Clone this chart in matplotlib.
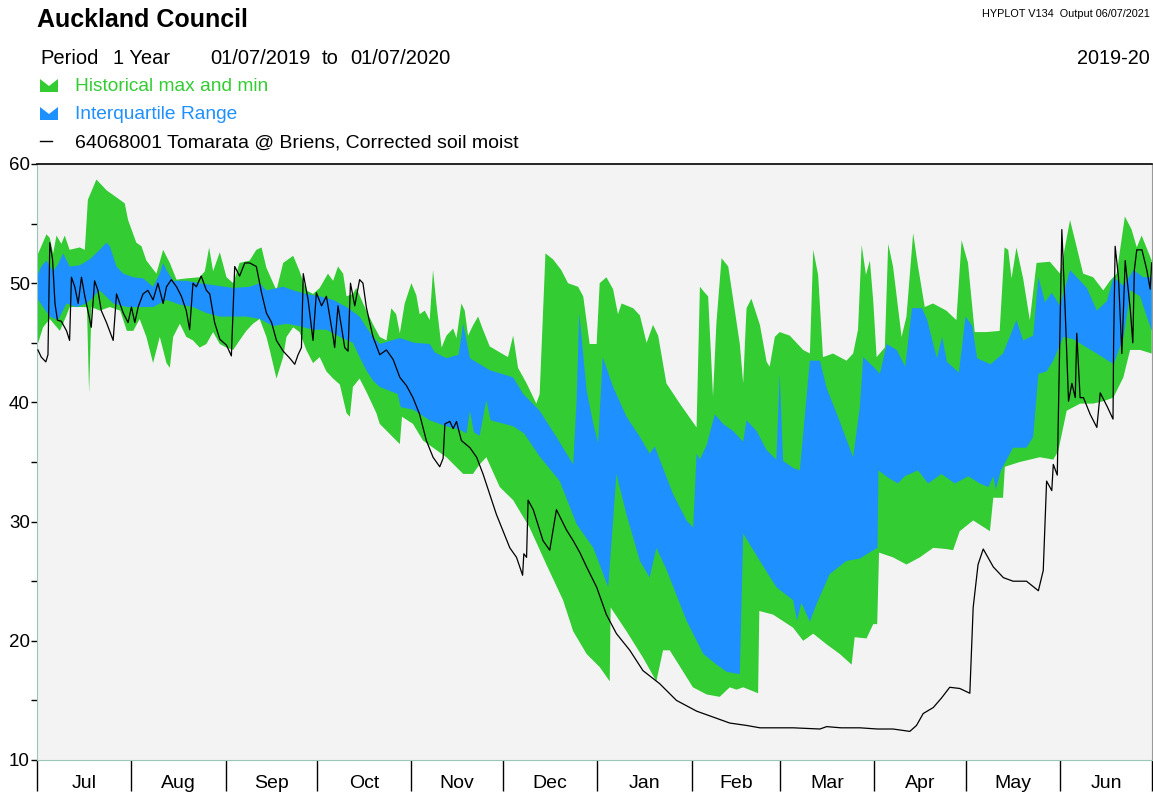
import numpy as np
import pandas as pd
import matplotlib
matplotlib.use('Agg')
import matplotlib.pyplot as plt
from matplotlib.patches import Polygon
from matplotlib.lines import Line2D

plt.rcParams['font.family'] = ['Liberation Sans', 'DejaVu Sans']

# x values are days since 01/07/2019, y values are soil moisture
hist_max_day = [0, 3.2, 4.3, 5.4, 6.5, 8.1, 9.2, 10.8, 14.1, 15.8, 16.8, 19.6, 22.9, 26.2, 28.9, 30, 32.7, 34.4, 36,
                39.3, 41.5, 43.7, 45.9, 49.1, 53.5, 55.2, 56.6, 57.9, 60.1, 62.3, 64.5, 66.6, 69.9, 72.1, 73.8, 75.4,
                78.7, 80.9, 84.2, 86.3, 88.5, 90.7, 92.9, 95.6, 97.3, 98.9, 100.6, 101.7, 103.8, 104.9, 108.2, 110.5,
                112.6, 114.8, 116.4, 118, 119.2, 120.8, 123, 124.6, 125.7, 127.4, 129, 130.1, 131.2, 132.9, 134.5,
                136.7, 137.8, 139.4, 140.5, 141.6, 143.3, 144.9, 146.5, 148.7, 152, 154.7, 156.4, 158, 160.8, 164,
                165.1, 167, 169.5, 172.2, 174.4, 177.7, 179.4, 181.5, 183.8, 184.8, 187, 189.2, 190.8, 192, 195.8,
                198, 200.2, 202.3, 204, 206.7, 211.1, 216.6, 217.7, 219.3, 220.4, 222, 223.1, 224.8, 227, 230.8,
                231.9, 233, 234.6, 237.4, 239.6, 240.6, 242.3, 243.9, 247.2, 251.6, 253.8, 254.9, 256.5, 258.1,
                261.4, 265.8, 268, 269.6, 270.8, 272.2, 273.5, 274.6, 275.7, 278.4, 279.5, 281.1, 283.9, 285.5,
                287.7, 289.3, 291.5, 294.2, 298.6, 301.9, 303.6, 305.7, 307.9, 311.8, 316.1, 317.7, 318.9, 320,
                321.6, 323.8, 326, 328.2, 332.6, 335.9, 339.2, 341.4, 343.5, 346.8, 350.1, 352.3, 354.5, 357.2,
                359.4, 361.1, 362.7, 366]
hist_max = [52.2, 54.1, 53.8, 52.5, 54, 53.3, 54, 52.8, 53, 52.8, 57, 58.7, 57.8, 57.2, 56.7, 55.3, 53.4, 53.1, 51.9,
            50.8, 52.8, 51.7, 50.3, 50.4, 50.5, 51, 53, 51, 52.6, 50.5, 50, 51.7, 51.9, 52.8, 53, 51.3,
            49.4, 51.7, 52.3, 51, 49.4, 49.1, 49.6, 50.8, 50.2, 51.4, 50.8, 48.9, 49.1, 49.6, 47.7, 46.5,
            45.5, 45.2, 47.9, 47.4, 45.8, 48.3, 50, 49, 47.4, 47.7, 46.9, 51.1, 48.3, 44.6, 45.6,
            46.2, 45.4, 48.3, 47.7, 45.6, 46.5, 47.2, 46.1, 44.7, 44.2, 43.8, 45.6, 42.9, 41.6, 39.9,
            40.7, 52.5, 52, 51.1, 50, 49.7, 48.9, 44.9, 44.9, 50, 50.5, 49.5, 47.4, 48.3, 47.9,
            47.3, 45, 46.5, 45.6, 41.6, 39.9, 37.9, 49.7, 49.2, 48.9, 40.5, 46.6, 52.1, 51.4, 44.9,
            41.6, 47.9, 48.7, 46.5, 43.4, 43, 45.5, 45.9, 45.6, 44.4, 44.1, 52.8, 50.7, 43.8,
            44.1, 43.5, 44.1, 46.1, 53.2, 50.7, 51.9, 48.5, 43.8, 44.6, 53.3, 51.4, 45.5, 47.2,
            54.2, 51.4, 48, 48.3, 47.7, 46.9, 53.6, 51.7, 45.9, 45.9, 46, 53, 52.8, 50.4,
            53, 50.4, 46.9, 51.7, 51.8, 50.8, 55.3, 53, 50.8, 50.5, 49.4, 50.2, 50.8, 55.6,
            54.5, 53, 54, 51.9]

hist_min_day = [0, 2.1, 4.3, 7.6, 9.8, 10.8, 14.1, 16.5, 17.2, 18, 20.7, 24, 27.4, 29.6, 31.7, 33.8, 36, 38.2, 40.4,
                42.6, 43.7, 44.8, 47, 49.1, 51.3, 53.5, 55.7, 57.9, 60.1, 62.3, 64.5, 66.6, 68.8, 71, 73.2, 75.4,
                76.5, 78.7, 80.9, 82, 84.2, 86.3, 88.5, 90.7, 92.9, 95.1, 97.3, 99.5, 101.7, 102.8, 103.8, 106,
                108.2, 111.5, 112.6, 119.2, 119.9, 123.5, 126.8, 134.5, 140, 143.2, 145.4, 147.6, 152, 156.4,
                161.8, 167.3, 172.8, 176.1, 180.5, 184.8, 188.1, 188.4, 193.6, 199, 203.4, 205.6, 207.8, 211,
                215.4, 219.9, 224.2, 227.5, 229.7, 231.9, 236.8, 237.2, 241.7, 248.3, 251.6, 254.9, 259.3, 263.6,
                267.5, 268.5, 272.4, 274.6, 275.9, 276.5, 281.1, 285.5, 289.9, 294.3, 298.6, 300.8, 303, 307.4,
                312.9, 314, 317.2, 317.8, 322.7, 329.3, 333.7, 335.3, 338.1, 342.5, 346.8, 350.1, 353.4, 356.7,
                358.9, 362.2, 366]
hist_min = [44.6, 46.3, 47, 46, 47.3, 48, 48, 48, 40.8, 48, 47.7, 48, 47.7, 46, 46, 47, 45.5, 43.3, 45.5,
            43.3, 42.9, 45.5, 46.6, 45.5, 45.2, 44.6, 44.9, 45.9, 44.9, 44.6, 44.4, 45.2, 46, 46.6, 47, 45.5,
            44.4, 42, 43.8, 45.5, 46.3, 45.9, 44.4, 43.3, 43.8, 42.6, 42, 41.5, 39.1, 38.8, 41.3, 42,
            40.9, 39.1, 38.2, 36.5, 38.8, 38.2, 36.8, 35.4, 34, 34, 34.8, 35.4, 32.9, 31.8,
            29.5, 26.4, 23.4, 20.8, 18.9, 17.8, 16.6, 22.8, 20.8, 18.6, 16.6, 19.2, 19.2, 17.9,
            16.1, 15.5, 15.3, 16.1, 15.9, 16.1, 15.6, 22.5, 22.2, 21.1, 20, 20.6, 19.7, 18.9,
            18, 20.3, 20.2, 21.4, 21.4, 27.4, 27, 26.4, 27, 27.8, 27.7, 27.6, 29.2, 30.1,
            29.2, 32, 32, 34.6, 35, 35.4, 35.2, 35.9, 39.3, 39.9, 39.9, 40.1, 40.4, 42.1,
            44.4, 44.4, 44.1]

iqr_hi_day = [0, 1.5, 3.2, 5.4, 7, 8.7, 10.8, 14.1, 17.4, 20.7, 22.9, 24, 26.2, 28.4, 31.7, 35, 38.2, 40.4, 41.5,
              42.6, 44.8, 49.1, 53.5, 59, 64.5, 69.9, 73.2, 75.4, 80.9, 84.2, 88.5, 92.9, 97.3, 101.7, 106, 108.2,
              110.4, 112.6, 119.2, 124, 129, 130.7, 134.5, 138.5, 140, 142.2, 148.7, 156.4, 159.7, 165.1, 170.6,
              176.1, 177.2, 178.1, 180.5, 182.7, 184.3, 185.8, 189.2, 193.6, 198, 201.2, 202.9, 204.5, 208.9,
              213.3, 215.5, 216.6, 217.7, 219.9, 222.6, 225.3, 228.6, 231.9, 233, 236.3, 239.6, 242.8, 243.9,
              245, 248.3, 250.5, 253.8, 257.1, 259.3, 263.6, 268, 270.2, 271.3, 274.6, 276.8, 279, 282.3, 285.1,
              287.3, 290.6, 292.2, 295.5, 297.2, 298.8, 302.7, 304.9, 307.1, 308.7, 313.1, 317.2, 321.6, 323.8,
              327.1, 328.8, 331, 333.2, 335.9, 339.2, 341.4, 344.7, 348, 351.3, 353.5, 356.7, 360, 363.3, 366]
iqr_hi = [50.5, 51.4, 51.9, 51, 51.6, 52.5, 51.4, 51.5, 52, 52.8, 53.4, 53.1, 51.4, 50.8, 50.5, 50.4, 49.7, 50.8, 51.7,
          51.1, 50.2, 50.2, 50, 49.8, 49.6, 49.7, 50, 49.4, 49.7, 49.4, 49.1, 48.9, 48.6, 48, 47.2, 46.3,
          45.5, 44.9, 45.4, 45, 44.9, 44.2, 43.7, 44, 46.6, 43.7, 42.7, 42.1, 40.7, 39.3, 37.1,
          34.8, 40, 47.5, 41, 38.2, 36.6, 43.8, 41.3, 38.8, 37.1, 35.7, 36.3, 35.2, 32.3,
          30.1, 29.5, 35.7, 35.2, 36.4, 39, 38.2, 37.6, 36.7, 38.5, 37.6, 36, 35.2, 42.4,
          35.1, 34.5, 34.3, 43.5, 43.5, 41.2, 38.4, 35.4, 39.6, 43.8, 43, 42.4, 44.9, 44.4, 43,
          47.9, 47.9, 47, 43.7, 45.5, 43.4, 42.5, 47.2, 46.4, 43.7, 43.2, 44.1, 46.9, 45.2,
          45.6, 50.5, 48.4, 49.2, 48.1, 51.1, 50.5, 49.6, 47.7, 48.5, 50.5, 49.8, 51.1, 50.5, 50.5]

iqr_lo_day = [0, 2.1, 4.3, 7, 9.8, 13, 16.4, 20.7, 25.1, 29.6, 33.9, 38.2, 42.6, 47, 51.3, 55.7, 60.1, 64.5, 68.8,
              73.2, 77.6, 82, 86.3, 90.7, 95.1, 99.5, 103.8, 106, 108.2, 110.5, 112.6, 118.5, 119.5, 123.5, 129,
              134.5, 138.9, 141.1, 142.2, 143.5, 145.4, 147.6, 149, 152, 156.4, 160, 165, 171.7, 177.2, 182.7,
              187.6, 190.3, 193.6, 198, 201.2, 203.4, 206.7, 213.3, 218.8, 223.2, 226.5, 230.8, 231.9, 237.4,
              242.8, 248.3, 249.6, 251, 253.8, 256, 260.3, 265.8, 270.2, 274.6, 276, 276.3, 279.4, 282.7, 284.9,
              289.3, 292.6, 297, 301.4, 305.8, 309.6, 312.4, 314, 314.8, 316.5, 320.5, 324.9, 327.1, 328.8,
              331.5, 333.7, 337, 340.3, 344.7, 348, 353.5, 356.8, 359, 362.2, 364, 366]
iqr_lo = [48.8, 48, 47.2, 46.9, 48.3, 48, 48.3, 49.4, 48.3, 48, 48, 48, 48.6, 48.2, 48, 47.5, 47.2, 47.2, 47.2,
          47, 46.4, 46.6, 46.4, 46.1, 46.1, 45.5, 45, 43.8, 42.7, 41.8, 41.3, 40.7, 39.6, 39.4, 38.5,
          38, 37.7, 37.4, 39.3, 37.5, 37.2, 40.2, 38.5, 38.3, 38, 37.4, 35.5, 33.4, 29.8, 27.8,
          24.5, 34, 30.6, 26.7, 25.3, 27.8, 26, 21.7, 18.9, 18, 17.4, 17.2, 29, 26.7,
          24.5, 23.4, 21.7, 23.2, 21.6, 23.1, 25.6, 26.7, 26.9, 27.6, 27.8, 34.3, 33.7, 33.2, 33.8,
          34.3, 33.2, 34, 33.2, 33.8, 33.2, 32.9, 33.8, 32.7, 34.3, 36.2, 36.2, 37.1, 42.4,
          42.6, 43.5, 45.5, 45.3, 44.6, 44.1, 43.2, 45.5, 49.4, 48.9, 47.5, 46]

site_day = [0.4, 1.5, 3, 3.7, 4.3, 5.2, 6, 6.8, 8.1, 9.8, 10.8, 11.4, 12.5, 13.6, 14.7, 15.8, 16.8, 17.9, 19, 20.1,
            21.2, 22.9, 25.1, 26.2, 27.3, 28.4, 30, 31.1, 32.2, 33.3, 34.9, 36.5, 38.2, 39.8, 41.5, 42.6, 44.2,
            45.9, 47.5, 49.1, 50.2, 51.3, 52.4, 54, 55.7, 56.8, 58.4, 60.1, 62.3, 63.9, 65, 66.6, 68.3, 69.9,
            72.1, 73.8, 75.4, 77.1, 78.7, 80.9, 83.1, 84.7, 85.8, 86.9, 87.5, 89.1, 90.7, 91.8, 93.5, 95.1,
            96.2, 97.3, 97.8, 98.9, 100, 101.1, 102.2, 103, 104.4, 106, 107.1, 108.2, 109.3, 110.4, 112.6,
            114.8, 117, 119.2, 121.4, 123.5, 125.7, 127.9, 130.1, 132.3, 133.4, 134, 135.6, 136.7, 137.8,
            139.4, 142.2, 144.4, 146.5, 148.7, 150.9, 153.1, 155.3, 157.5, 159.5, 159.9, 160.8, 161.3, 163,
            166.2, 168.4, 170.6, 173.9, 176.1, 178.3, 180.5, 183.8, 187, 190.3, 194.7, 199, 204.5, 210, 216.6,
            222, 227.5, 233, 237.4, 243.9, 248.3, 257.1, 259.3, 264, 270.2, 276, 281.1, 286.6, 288.8, 291,
            294.3, 297, 299.7, 303, 306.3, 307.4, 309, 310.7, 314, 317.3, 320.5, 324.9, 328.8, 330.4, 331.5,
            333.2, 333.7, 335, 336.5, 337.6, 338.7, 339.8, 340.9, 341.4, 342.5, 343.6, 345.8, 348, 349.1,
            351.3, 353.3, 353.5, 354, 355.1, 356.2, 357.3, 359, 359.8, 360.3, 361.1, 362.8, 364.4, 365.5, 366]
site = [44.4, 43.8, 43.4, 44, 53.4, 52, 48.3, 46.9, 46.8, 46, 45.2, 50.5, 49.7, 48.3, 50.5, 48.9, 47.7, 46.3, 50.2, 49.4,
        47.7, 46.7, 45.2, 49.1, 48.3, 47.5, 46.7, 48, 46.7, 48, 49.1, 49.4, 48.6, 50, 48.3, 49.7, 50.3,
        49.7, 48.9, 47.7, 46.1, 50, 49.7, 50.6, 49.4, 49.1, 46.7, 45.3, 44.8, 43.9, 51.4, 50.6, 51.7, 51.7,
        51.4, 49.2, 47.5, 46.7, 45.2, 44.3, 43.7, 43.2, 44, 44.6, 50.8, 48.6, 45.2, 49.2, 48.1, 48.9,
        47.2, 45.5, 44.6, 48.1, 46.4, 44.6, 44.3, 50, 48.1, 50.3, 50, 48, 46.7, 45.5, 44,
        44.4, 43.6, 42.1, 41.4, 40.4, 39, 36.8, 35.4, 34.6, 35.3, 38.2, 38.4, 37.8, 38.4,
        36.8, 36.2, 35.4, 34, 32.3, 30.6, 29.2, 27.8, 27, 25.5, 27.3, 27, 31.8, 31,
        28.4, 27.6, 31, 29.3, 28.4, 27.4, 26.2, 24.5, 22.2, 20.6, 19.2, 17.5, 16.4, 15, 14.1,
        13.6, 13.1, 12.9, 12.7, 12.7, 12.7, 12.6, 12.8, 12.7, 12.7, 12.6, 12.6, 12.4, 12.9, 13.9,
        14.4, 15.2, 16.1, 16, 15.6, 22.8, 26.4, 27.7, 26.2, 25.3, 25, 25, 24.2, 25.9, 33.4,
        32.6, 34.8, 33.9, 54.5, 47.7, 40.1, 41.6, 40.4, 45.8, 40.4, 40.4, 39, 37.9, 40.8,
        39.7, 38.6, 45, 53.1, 50.5, 44.1, 51.9, 47.7, 45, 51.1, 52.8, 52.8, 51.1, 49.5, 51.7]

green = '#33cc33'
blue = '#1e90ff'
W, H = 1153, 794

fig = plt.figure(figsize=(W / 100, H / 100), dpi=100)
ax = fig.add_axes([36.7 / W, 1 - 760 / H, 1115 / W, 596 / H])
ax.set_facecolor('#f3f3f3')

# bands drawn as closed polygons: upper edge forward, lower edge back
ax.fill(np.concatenate([hist_max_day, hist_min_day[::-1]]), np.concatenate([hist_max, hist_min[::-1]]),
        color=green, lw=0, zorder=1)
ax.fill(np.concatenate([iqr_hi_day, iqr_lo_day[::-1]]), np.concatenate([iqr_hi, iqr_lo[::-1]]),
        color=blue, lw=0, zorder=2)
ax.plot(site_day, site, color='black', lw=0.9, zorder=3)

ax.set_xlim(0, 366)
ax.set_ylim(10, 60)

# month boundaries as long ticks, names centred in each month
months = pd.date_range('2019-07-01', '2020-07-01', freq='MS')
edges = np.array((months - months[0]).days)
ax.set_xticks(edges)
ax.set_xticklabels([])
ax.set_xticks((edges[:-1] + edges[1:]) / 2, minor=True)
ax.set_xticklabels(months[:-1].strftime('%b'), minor=True, fontsize=14)
ax.tick_params(axis='x', which='major', direction='out', length=22, width=1, color='black')
ax.tick_params(axis='x', which='minor', length=0, pad=11)

ax.set_yticks(np.arange(10, 61, 10))
ax.set_yticks(np.arange(15, 60, 10), minor=True)
ax.tick_params(axis='y', which='both', direction='out', length=4, width=1, color='black', labelsize=13.5, pad=1)

ax.spines['top'].set_color('black')
ax.spines['top'].set_linewidth(1.2)
ax.spines['right'].set_color('#999999')
ax.spines['left'].set_color('#9cc5b9')
ax.spines['bottom'].set_color('#9cc5b9')

# header texts
fig.text(37 / W, 1 - 27 / H, 'Auckland Council', fontsize=18, fontweight='bold', va='baseline')
for px, s in [(40, 'Period'), (113, '1 Year'), (210, '01/07/2019'), (322, 'to'), (350, '01/07/2020')]:
    fig.text(px / W, 1 - 64 / H, s, fontsize=14.5, va='baseline')
fig.text(1150 / W, 1 - 64 / H, '2019-20', fontsize=14.3, ha='right', va='baseline')
fig.text(1150 / W, 1 - 17 / H, 'HYPLOT V134  Output 06/07/2021', fontsize=7.8, ha='right', va='baseline')

# legend
def icon(top, color):
    pts = [(40, top + 14), (40, top + 1), (49, top + 8), (58, top + 1), (58, top + 14)]
    fig.add_artist(Polygon([(px / W, 1 - py / H) for px, py in pts], closed=True,
                           transform=fig.transFigure, color=color, lw=0))

icon(78, green)
fig.text(75 / W, 1 - 91 / H, 'Historical max and min', fontsize=13.8, color=green, va='baseline')
icon(106, blue)
fig.text(75 / W, 1 - 119 / H, 'Interquartile Range', fontsize=13.8, color=blue, va='baseline')
fig.add_artist(Line2D([40 / W, 52 / W], [1 - 141 / H, 1 - 141 / H], transform=fig.transFigure,
                      color='black', lw=1))
fig.text(75 / W, 1 - 147 / H, '64068001 Tomarata @ Briens, Corrected soil moist', fontsize=14, va='baseline')

fig.savefig('out.png', dpi=100, facecolor='white')
